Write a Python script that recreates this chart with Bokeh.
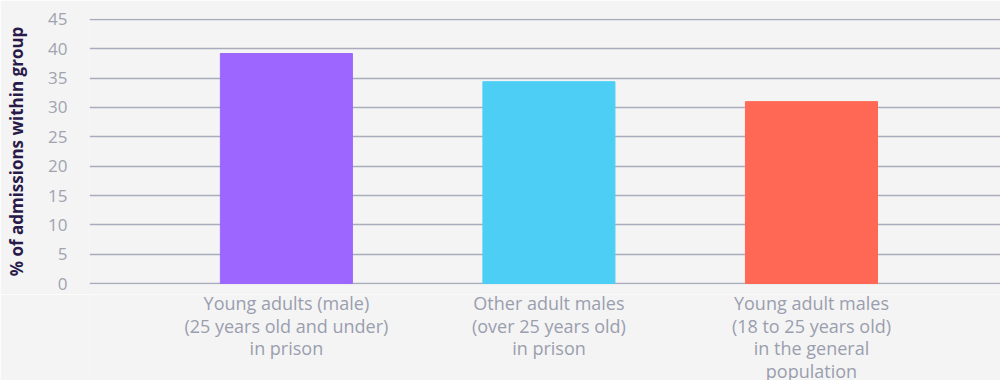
from bokeh.plotting import figure
from bokeh.models import ColumnDataSource, Range1d, FixedTicker
from bokeh.core.properties import value
from bokeh.layouts import column
from bokeh.embed import file_html
from bokeh.resources import INLINE

categories = [
    "Young adults (male)\n(25 years old and under)\nin prison",
    "Other adult males\n(over 25 years old)\nin prison",
    "Young adult males\n(18 to 25 years old)\nin the general\npopulation",
]
values = [39.2, 34.4, 31.0]
colors = ["#9d66ff", "#4dcff5", "#ff6854"]
y_ticks = [0, 5, 10, 15, 20, 25, 30, 35, 40, 45]

BG = "#f4f4f4"
xs = list(range(len(categories)))
src = ColumnDataSource(dict(x=xs, top=values, color=colors))

x_range = Range1d(-0.75, 2.72)

# ---- main chart ----
p = figure(frame_width=911, frame_height=266, output_backend="svg", toolbar_location=None,
           x_range=x_range, y_range=Range1d(-0.17, 45.17), x_axis_location=None,
           min_border_left=89, min_border_right=0, min_border_top=18, min_border_bottom=10)
p.background_fill_color = BG
p.border_fill_color = BG
p.outline_line_color = None

p.vbar(x="x", top="top", bottom=0, width=0.503, color="color", source=src)

p.xgrid.grid_line_color = None
p.ygrid.grid_line_color = "#a9acba"
p.ygrid.grid_line_width = 1.5
p.ygrid.ticker = FixedTicker(ticks=y_ticks)
p.ygrid.level = "underlay"

p.yaxis.ticker = FixedTicker(ticks=y_ticks)
p.yaxis.axis_line_color = None
p.yaxis.major_tick_line_color = None
p.yaxis.minor_tick_line_color = None
p.yaxis.major_label_text_font = "Open Sans"
p.yaxis.major_label_text_font_size = "17px"
p.yaxis.major_label_text_color = "#a0a3b0"
p.yaxis.major_label_standoff = 16
p.yaxis.axis_label = "% of admissions within group"
p.yaxis.axis_label_text_font = "Open Sans"
p.yaxis.axis_label_text_font_style = "bold"
p.yaxis.axis_label_text_font_size = "17px"
p.yaxis.axis_label_text_color = "#2a1a4a"
p.yaxis.axis_label_standoff = 17

# ---- category labels strip (shares the x range) ----
STRIP_H = 86
first_baseline_px = 8.5
line_step_px = 22.7
lx, ly, lt = [], [], []
for x, cat in zip(xs, categories):
    for j, line in enumerate(cat.split("\n")):
        lx.append(x)
        ly.append(first_baseline_px + j * line_step_px)
        lt.append(line)
lab_src = ColumnDataSource(dict(x=lx, y=ly, text=lt))

p2 = figure(frame_width=911, frame_height=STRIP_H, output_backend="svg", toolbar_location=None,
            x_range=x_range, y_range=Range1d(STRIP_H, 0),
            x_axis_location=None, y_axis_location=None,
            min_border_left=89, min_border_right=0, min_border_top=0, min_border_bottom=0)
p2.background_fill_color = BG
p2.border_fill_color = BG
p2.outline_line_color = None
p2.grid.grid_line_color = None
p2.text(x="x", y="y", text="text", source=lab_src, text_align="center",
        text_baseline="alphabetic", text_font=value("Open Sans"), text_font_size="18px",
        text_color="#9a9eae")

layout = column(p, p2, spacing=0)
open("out.html", "w").write(file_html(layout, INLINE))
